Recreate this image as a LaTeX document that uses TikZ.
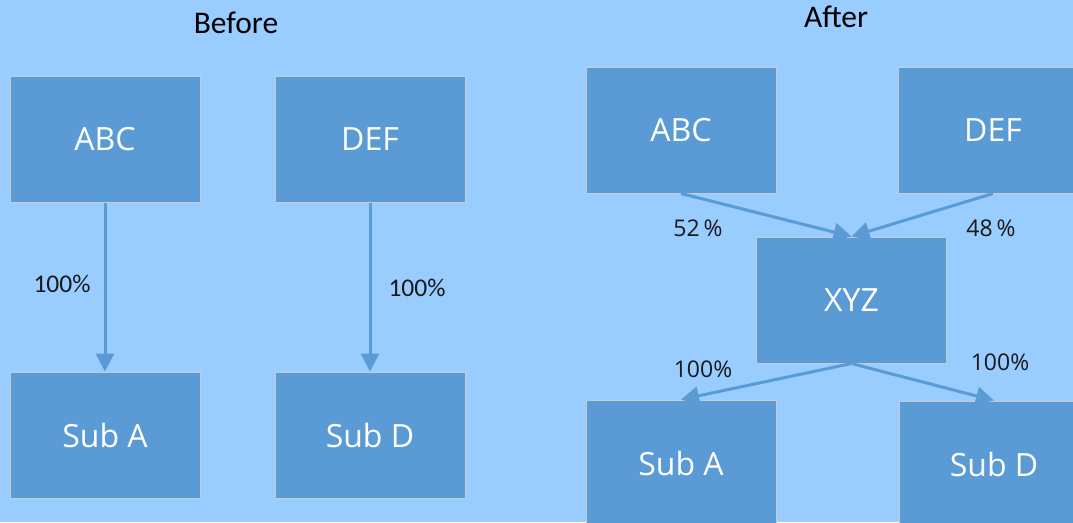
\documentclass[tikz,border=0pt]{standalone}
\usepackage{fontspec}
\setmainfont{Carlito}
\newfontfamily\boxfont{Open Sans}
\usetikzlibrary{arrows.meta}
\definecolor{bgblue}{HTML}{99CCFF}
\definecolor{boxblue}{HTML}{5B9BD5}
\definecolor{boxedge}{HTML}{C8CCD0}
\tikzset{
    entity/.style={
        rectangle, fill=boxblue, draw=boxedge, line width=1pt,
        minimum width=190pt, minimum height=126pt, inner sep=0pt,
        text=white, font=\boxfont\fontsize{32}{38}\selectfont
    },
    share/.style={draw=boxblue, line width=3pt,
        -{Triangle[length=18pt,width=18pt]}},
    pct/.style={text=black!90, inner sep=0pt},
    heading/.style={text=black, font=\fontsize{31.5}{36}\selectfont}
}

\begin{document}
\begin{tikzpicture}[x=1pt, y=-1pt]
    % Init
    \clip (0,0) rectangle (1073,522);
    \fill[bgblue] (0,0) rectangle (1073,522);
    % 1. before
    \node[heading] (before) at (236,23) {Before};
    \node[entity] (abc1) at (105,139) {ABC};
    \node[entity] (def1) at (370,139) {DEF};
    \node[entity] (suba1) at (105,435) {Sub A};
    \node[entity] (subd1) at (370,435) {Sub D};
    \draw[share] (abc1.south) -- (suba1.north);
    \draw[share] (def1.south) -- (subd1.north);
    \node[pct, font=\fontsize{25.5}{30}\selectfont] (p1) at (62,284) {100\%};
    \node[pct, font=\fontsize{25.5}{30}\selectfont] (p2) at (417,288) {100\%};
    % 2. after
    \node[heading] (after) at (836,17) {After};
    \node[entity] (abc2) at (681,130) {ABC};
    \node[entity] (def2) at (993,130) {DEF};
    \node[entity] (xyz) at (851.5,300) {XYZ};
    \node[entity] (suba2) at (681,463) {Sub A};
    \node[entity] (subd2) at (994,464) {Sub D};
    \draw[share] (abc2.south) -- (xyz.north);
    \draw[share] (def2.south) -- (xyz.north);
    \draw[share] (xyz.south) -- (suba2.north);
    \draw[share] (xyz.south) -- (subd2.north);
    % 3. shares after
    \node[pct, font=\boxfont\fontsize{23}{27}\selectfont] (p3) at (698,228) {52\,\%};
    \node[pct, font=\boxfont\fontsize{23}{27}\selectfont] (p4) at (991,228) {48\,\%};
    \node[pct, font=\boxfont\fontsize{23}{27}\selectfont] (p5) at (703,369) {100\%};
    \node[pct, font=\boxfont\fontsize{23}{27}\selectfont] (p6) at (1000,362) {100\%};
\end{tikzpicture}
\end{document}
